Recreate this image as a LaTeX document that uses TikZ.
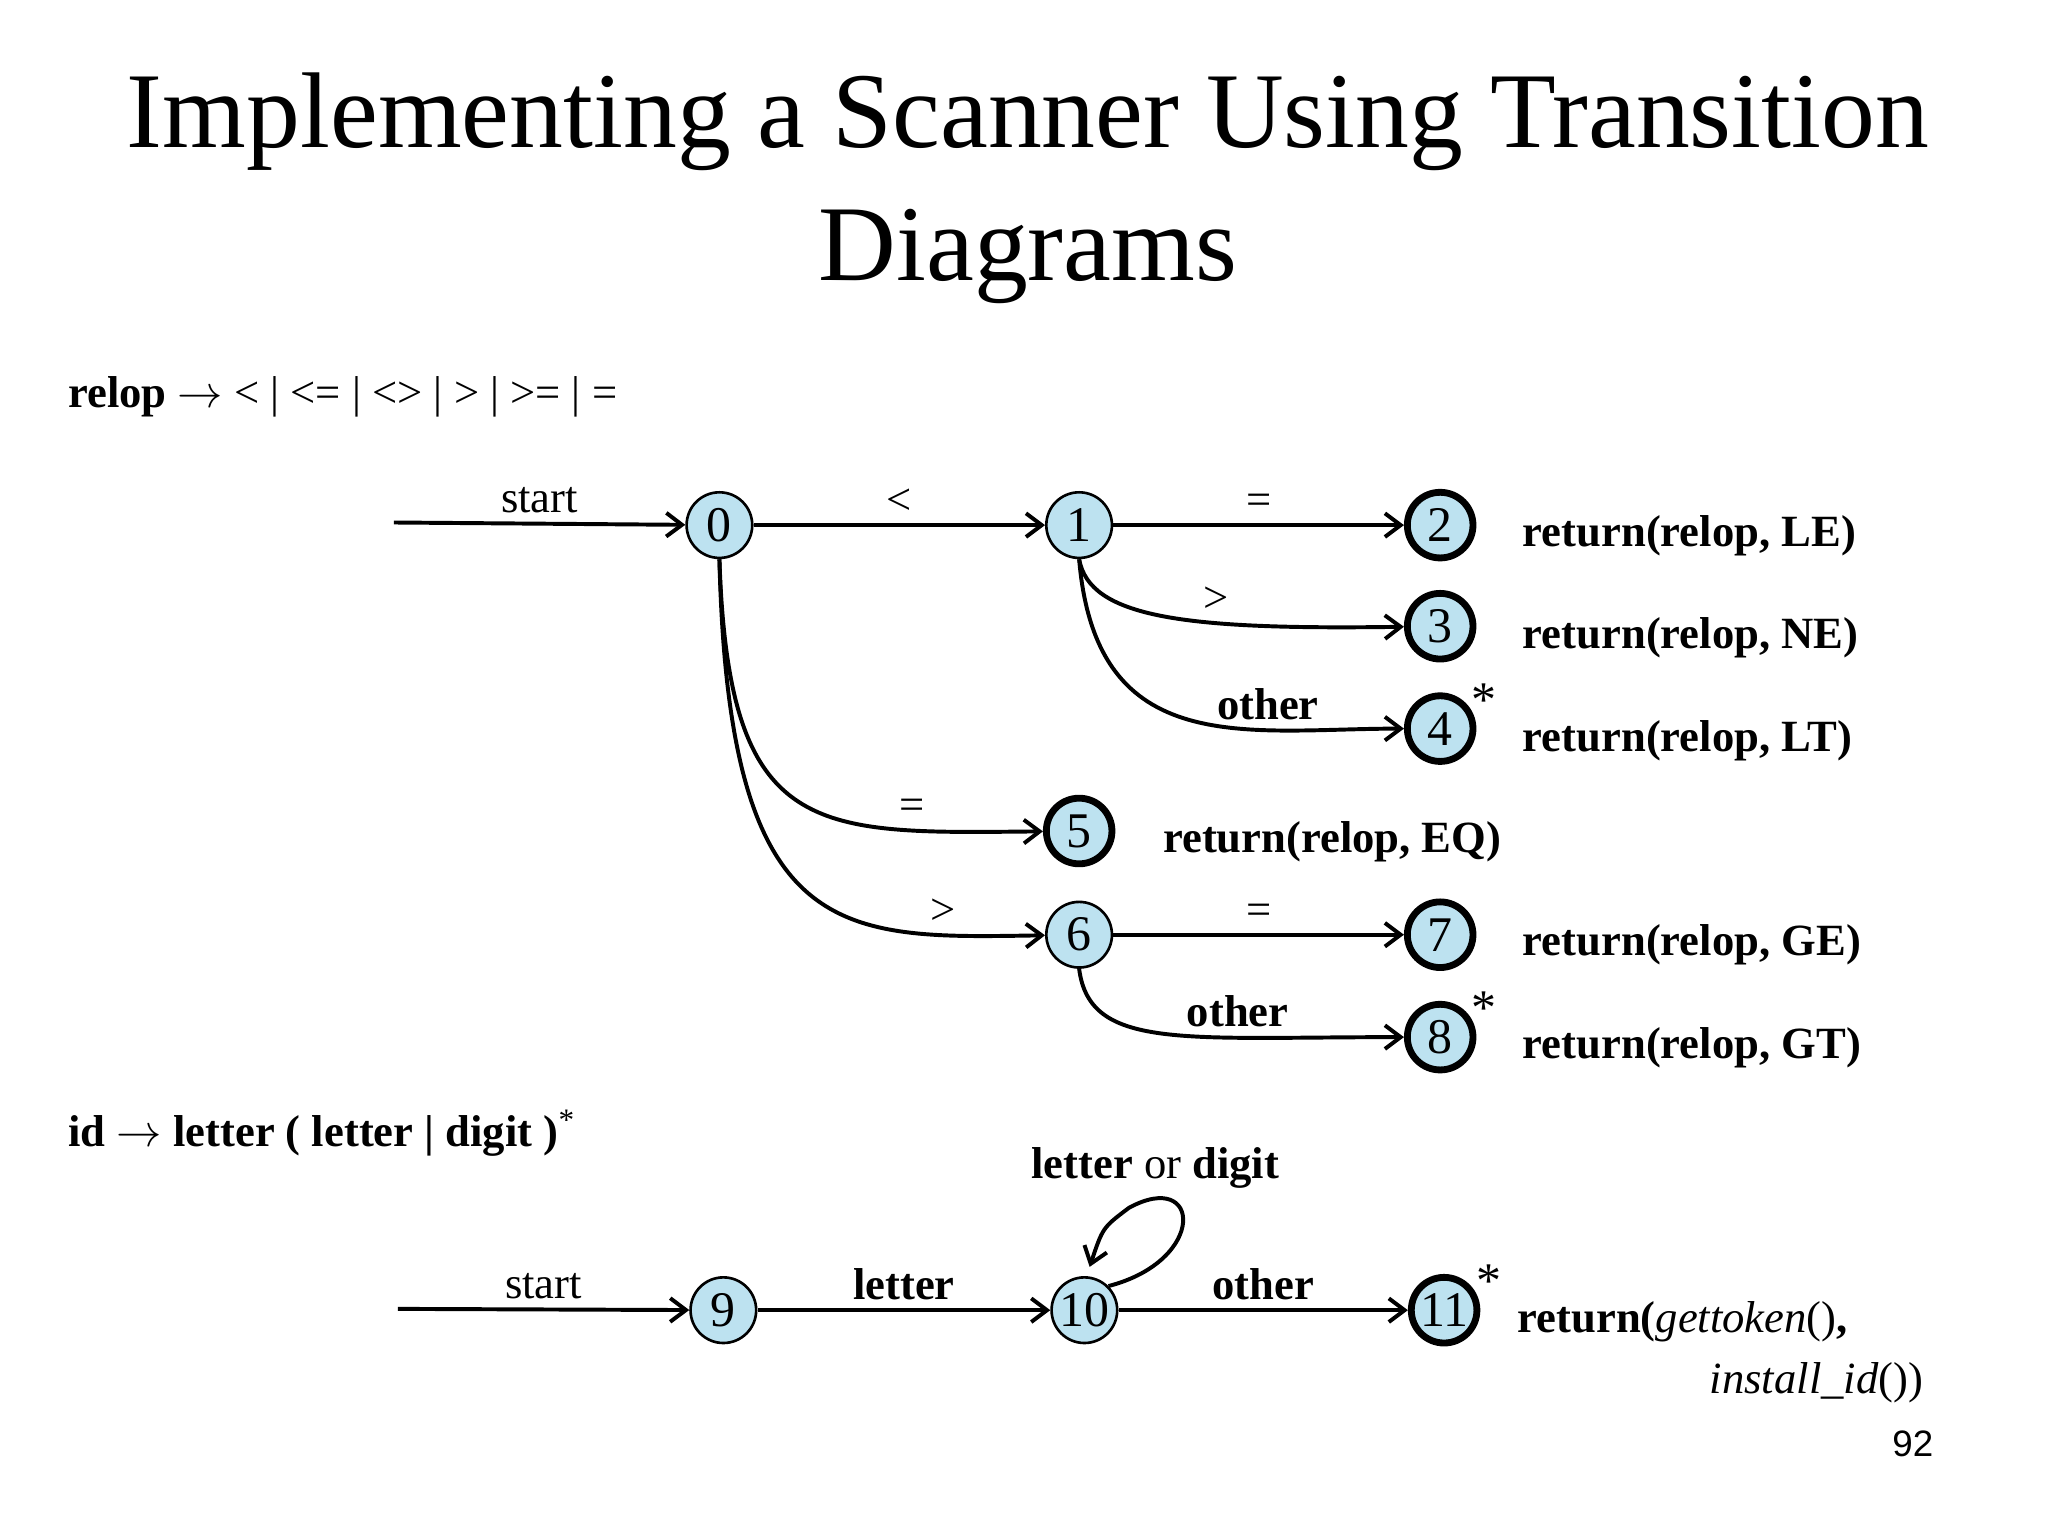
\documentclass[tikz,border=0pt]{standalone}
\usepackage{fontspec}
\setmainfont{Liberation Serif}
\newfontfamily\sansf{Liberation Sans}
\usetikzlibrary{arrows.meta}
\begin{document}
\begin{tikzpicture}[x=0.5pt,y=-0.5pt,
  st/.style={circle,draw,line width=1pt,fill=cyan!25!white!90!gray,minimum size=25pt,inner sep=0pt,font=\fontsize{19}{19}\selectfont},
  acc/.style={st,line width=2.6pt},
  ar/.style={line width=1.5pt,-{Straight Barb[length=6pt,width=9pt,line width=1.5pt]}},
  lb/.style={font=\fontsize{17}{17}\selectfont,above},
  rt/.style={font=\fontsize{17}{17}\selectfont\bfseries,anchor=west}]
\useasboundingbox (0,0) rectangle (1560,1170);
\node[font=\fontsize{41}{41}\selectfont] (t1) at (783,93) {Implementing a Scanner Using Transition};
\node[font=\fontsize{41}{41}\selectfont] (t2) at (783,195) {Diagrams};
\node[anchor=west,font=\fontsize{17}{17}\selectfont] (rl) at (45,302) {\textbf{relop} $\rightarrow$ < | <= | <> | > | >= | =};
\node[anchor=west,font=\fontsize{17}{17}\selectfont] (il) at (45,863) {\textbf{id} $\rightarrow$ \textbf{letter ( letter | digit )}\textsuperscript{*}};
\node[st] (n0) at (548,400) {0};
\node[st] (n1) at (822,400) {1};
\node[acc] (n2) at (1097,400) {2};
\node[acc] (n3) at (1097,477) {3};
\node[acc] (n4) at (1097,555) {4};
\node[acc] (n5) at (822,633) {5};
\node[st] (n6) at (822,712) {6};
\node[acc] (n7) at (1097,712) {7};
\node[acc] (n8) at (1097,790) {8};
\node[st] (n9) at (551,998) {9};
\node[st] (n10) at (826,998) {10};
\node[acc] (n11) at (1100,998) {11};
\coordinate (s0) at (300,398);
\coordinate (s9) at (303,997);
\draw[ar] (s0) -- node[lb]{start} (n0);
\draw[ar] (n0) -- node[lb]{<} (n1);
\draw[ar] (n1) -- node[lb]{=} (n2);
\draw[ar] (n1.south) .. controls (830,470) and (900,480) .. node[lb,pos=0.65]{>} (n3);
\draw[ar] (n1.south) .. controls (835,580) and (950,555) .. node[lb,pos=0.7,font=\fontsize{17}{17}\selectfont\bfseries]{other} (n4);
\draw[ar] (n0.south) .. controls (555,640) and (620,635) .. node[lb,pos=0.78]{=} (n5);
\draw[ar] (n0.south) .. controls (555,720) and (640,715) .. node[lb,pos=0.82]{>} (n6);
\draw[ar] (n6) -- node[lb]{=} (n7);
\draw[ar] (n6.south) .. controls (830,800) and (900,790) .. node[lb,pos=0.7,font=\fontsize{17}{17}\selectfont\bfseries]{other} (n8);
\draw[ar] (s9) -- node[lb]{start} (n9);
\draw[ar] (n9) -- node[lb,font=\fontsize{17}{17}\selectfont\bfseries]{letter} (n10);
\draw[ar] (n10) -- node[lb,font=\fontsize{17}{17}\selectfont\bfseries]{other} (n11);
\draw[ar] (n10.north east) .. controls (920,960) and (915,890) .. (860,920) .. controls (840,935) .. (830,965);
\node[font=\fontsize{17}{17}\selectfont] (lod) at (880,890) {\textbf{letter} or \textbf{digit}};
\node[font=\fontsize{19}{19}\selectfont] (a4) at (1130,533) {*};
\node[font=\fontsize{19}{19}\selectfont] (a8) at (1130,768) {*};
\node[font=\fontsize{19}{19}\selectfont] (a11) at (1134,976) {*};
\node[rt] (r2) at (1153,408) {return(relop, LE)};
\node[rt] (r3) at (1153,486) {return(relop, NE)};
\node[rt] (r4) at (1153,564) {return(relop, LT)};
\node[rt] (r5) at (879,641) {return(relop, EQ)};
\node[rt] (r7) at (1153,720) {return(relop, GE)};
\node[rt] (r8) at (1153,798) {return(relop, GT)};
\node[rt] (r11) at (1149,1007) {return(\textmd{\textit{gettoken}()},};
\node[anchor=east,font=\fontsize{17}{17}\selectfont] (r11b) at (1472,1053) {\textit{install\_id}())};
\node[font=\sansf\fontsize{14}{14}\selectfont] (pg) at (1457,1100) {92};
\end{tikzpicture}
\end{document}
